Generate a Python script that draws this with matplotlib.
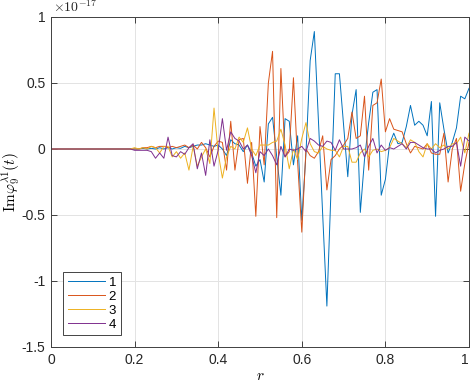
import matplotlib
matplotlib.use('Agg')
import matplotlib.pyplot as plt
import numpy as np

# r grid, step 0.01
r = np.round(np.arange(0, 101) * 0.01, 2)

# values in units of 1e-17, r = 0.00 ... 0.19 are flat
flat = [0.0, 0.0, 0.0, 0.0, 0.0, 0.0, 0.0, 0.0, 0.0, 0.0,
        0.0, 0.0, 0.0, 0.0, 0.0, 0.0, 0.0, 0.0, 0.0, 0.0]

s1 = flat + [0.0, 0.0, 0.005, 0.0, 0.005, 0.0, 0.01, 0.0, 0.01, 0.0,
             0.01, 0.005, 0.02, 0.01, 0.02, 0.03, 0.03, 0.04, 0.03, 0.02,
             0.03, 0.0, -0.05, 0.07, 0.04, 0.03, -0.02, 0.03, -0.03, -0.13,
             -0.08, -0.25, 0.19, 0.24, -0.06, -0.35, 0.23, 0.21, -0.12, 0.10,
             -0.54, -0.03, 0.67, 0.89, 0.2, -0.5, -1.19, -0.3, 0.57, 0.57,
             0.18, -0.21, 0.26, 0.45, -0.48, -0.08, 0.2, 0.43, 0.45, -0.35,
             -0.23, 0.04, 0.12, 0.04, 0.05, 0.17, 0.33, 0.18, 0.21, 0.18,
             0.1, 0.36, -0.51, 0.35, 0.15, -0.03, 0.05, 0.16, 0.40, 0.38,
             0.46]

s2 = flat + [0.0, 0.0, 0.01, 0.01, 0.02, 0.01, 0.02, 0.02, 0.01, 0.02,
             0.01, 0.02, 0.03, 0.01, 0.03, 0.0, 0.05, 0.01, -0.06, 0.02,
             0.06, 0.05, -0.16, 0.21, -0.16, 0.07, 0.08, -0.26, 0.05, -0.51,
             0.17, -0.12, 0.5, 0.74, -0.52, 0.61, -0.06, -0.02, 0.54, -0.1,
             -0.63, 0.0, -0.05, -0.07, -0.02, 0.1, -0.31, -0.08, -0.05, 0.0,
             0.03, 0.08, 0.28, 0.08, 0.1, 0.4, -0.16, 0.33, 0.35, 0.53,
             0.13, 0.23, 0.15, 0.14, 0.13, 0.04, -0.03, 0.02, 0.01, 0.0,
             0.04, -0.03, -0.04, -0.04, 0.12, -0.25, 0.0, 0.08, -0.32, -0.11,
             0.05]

s3 = flat + [0.01, 0.0, 0.01, 0.0, 0.02, 0.01, -0.03, 0.02, 0.02, -0.06,
             -0.02, -0.07, -0.03, -0.16, 0.02, -0.13, -0.06, 0.0, -0.11, 0.31,
             -0.03, -0.22, -0.06, 0.02, 0.0, 0.09, 0.05, 0.16, 0.0, -0.05,
             0.03, 0.03, 0.03, 0.05, 0.06, 0.15, 0.03, -0.15, 0.0, -0.08,
             0.08, 0.2, 0.04, -0.02, -0.03, 0.02, 0.0, -0.01, -0.01, -0.06,
             0.02, 0.02, -0.1, -0.1, -0.03, 0.0, -0.06, -0.01, 0.0, -0.02,
             -0.01, 0.01, 0.08, 0.06, 0.04, 0.01, 0.07, 0.05, -0.02, -0.06,
             0.04, 0.0, 0.04, 0.01, 0.03, 0.0, 0.04, 0.04, 0.09, -0.03,
             0.12]

s4 = flat + [-0.01, -0.01, -0.01, -0.01, -0.02, -0.07, -0.03, -0.07, 0.09, -0.05,
             -0.06, -0.02, -0.04, 0.01, 0.04, -0.15, -0.03, -0.2, 0.07, -0.13,
             -0.01, 0.23, -0.01, 0.13, 0.08, 0.06, 0.0, 0.03, -0.05, -0.18,
             -0.02, -0.05, 0.0, -0.05, -0.12, 0.02, -0.06, 0.0, -0.01, 0.0,
             0.02, -0.02, 0.08, 0.06, 0.03, 0.02, 0.06, 0.05, -0.01, 0.07,
             0.0, 0.0, 0.0, 0.01, 0.03, -0.06, 0.02, 0.08, -0.03, 0.03,
             -0.01, 0.01, 0.0, 0.02, 0.04, 0.0, 0.05, 0.05, 0.03, 0.01,
             0.0, 0.0, -0.03, -0.01, 0.0, 0.02, 0.02, 0.05, -0.13, 0.09,
             0.06]

labels = ['1', '2', '3', '4']
colors = ['#0072BD', '#D95319', '#EDB120', '#7E2F8E']

plt.rcParams['font.family'] = ['Liberation Sans', 'DejaVu Sans']
plt.rcParams['mathtext.fontset'] = 'cm'

fig = plt.figure(figsize=(4.71, 3.83), dpi=100)
ax = fig.add_axes([51/471, 1 - 347/383, 418/471, 330/383])

for ys, lab, c in zip([s1, s2, s3, s4], labels, colors):
    ax.plot(r, ys, color=c, lw=0.7, label=lab)

ax.set_xlim(0, 1)
ax.set_ylim(-1.5, 1)
ax.set_xticks([0, 0.2, 0.4, 0.6, 0.8, 1])
ax.set_xticklabels(['0', '0.2', '0.4', '0.6', '0.8', '1'])
ax.set_yticks([-1.5, -1, -0.5, 0, 0.5, 1])
ax.set_yticklabels(['-1.5', '-1', '-0.5', '0', '0.5', '1'])
# keep the last x label inside the figure edge
ax.get_xticklabels()[-1].set_horizontalalignment('right')

ax.grid(True, color='#e3e3e3', lw=0.7)
ax.set_axisbelow(True)
ax.tick_params(direction='in', length=4, width=0.6, top=True, right=True,
               labelsize=10, colors='#262626', pad=4)
for sp in ax.spines.values():
    sp.set_color('#404040')
    sp.set_linewidth(0.7)

ax.text(0.005, 1.005, r'$\times10^{-17}$', transform=ax.transAxes,
        ha='left', va='bottom', fontsize=10, color='#262626')

ax.set_xlabel(r'$r$', fontsize=11, labelpad=2)
ax.set_ylabel(r'$\mathrm{Im}\varphi_9^{\lambda 1}(t)$', fontsize=11)
ax.yaxis.set_label_coords(-0.07, 0.5)

leg = ax.legend(loc='lower left', bbox_to_anchor=(0.029, 0.036), fontsize=9.5,
                handlelength=2.8, handletextpad=0.3, labelspacing=0.12,
                borderpad=0.35, fancybox=False, framealpha=1,
                edgecolor='#262626', borderaxespad=0)
leg.get_frame().set_linewidth(0.6)

fig.savefig('out.png', dpi=100)
